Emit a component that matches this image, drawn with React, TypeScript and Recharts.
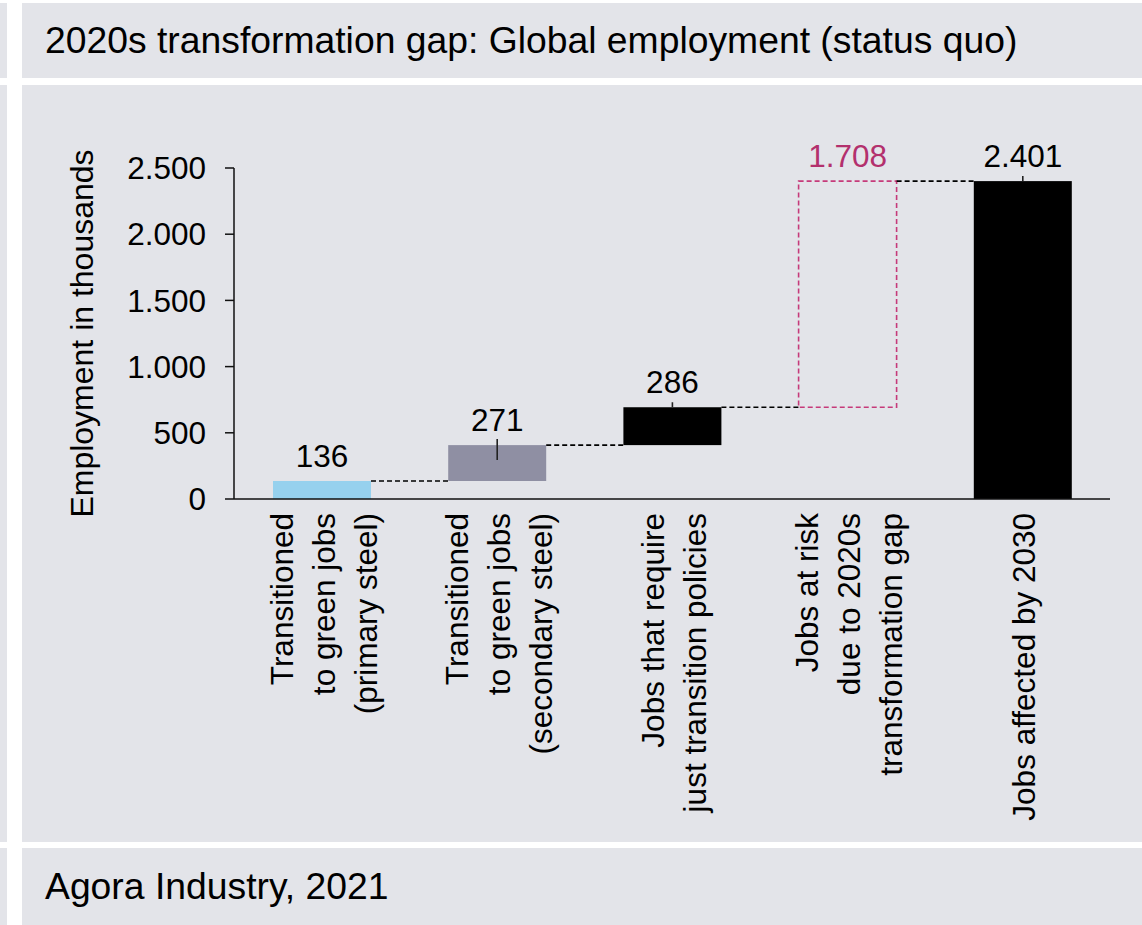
import React from "react";
import { BarChart, Bar, XAxis, YAxis } from "recharts";

// ---- data ----
const categories: string[] = [
  "Transitioned\nto green jobs\n(primary steel)",
  "Transitioned\nto green jobs\n(secondary steel)",
  "Jobs that require\njust transition policies",
  "Jobs at risk\ndue to 2020s\ntransformation gap",
  "Jobs affected by 2030",
];
const values: number[] = [136, 271, 286, 1708, 2401];
const isTotal: boolean[] = [false, false, false, false, true];
const yTicks: number[] = [0, 500, 1000, 1500, 2000, 2500];
const title = "2020s transformation gap: Global employment (status quo)";
const source = "Agora Industry, 2021";
const yLabel = "Employment in thousands";

// ---- style ----
const BG = "#e3e4e9";
const FONT = "'Liberation Sans', Arial, Helvetica, sans-serif";
const barColors = ["#96d1ee", "#8f8fa3", "#000000", "none", "#000000"];
const GAP_COLOR = "#c63a7a";
const GAP_TEXT = "#b3306d";
const LEADERS: (number[] | null)[] = [null, [-6, 15], [-5, 0], null, [-5, 0]];

const CHART_W = 1120;
const CHART_H = 757;
const Y_AXIS_W = 212;
const MARGIN = { top: 83, right: 32, left: 0, bottom: 0 };
const PLOT_W = CHART_W - Y_AXIS_W - MARGIN.right - MARGIN.left;
const BAND = PLOT_W / categories.length;

const fmt = (n: number) => String(n).replace(/\B(?=(\d{3})+(?!\d))/g, ".");

let running = 0;
const data = categories.map((name, i) => {
  const base = isTotal[i] ? 0 : running;
  if (!isTotal[i]) running += values[i];
  return { name, base, value: values[i] };
});

const XTick = (props: any) => {
  const { x, y, payload } = props;
  const lines = String(payload.value).split("\n");
  const n = lines.length;
  return (
    <g transform={`translate(${x},${y})`}>
      {lines.map((l, i) => (
        <text
          key={i}
          transform={`translate(${(i - (n - 1) / 2) * 42 + 13},14) rotate(-90)`}
          textAnchor="end"
          fontSize={31.5}
          fontFamily={FONT}
          fill="#000"
        >
          {l}
        </text>
      ))}
    </g>
  );
};

const ValueShape = (props: any) => {
  const { x, y, width, height, index } = props;
  const isGap = index === 3;
  const cx = x + width / 2;
  const leader = LEADERS[index];
  return (
    <g>
      {isGap ? (
        <rect
          x={x}
          y={y}
          width={width}
          height={height}
          fill="none"
          stroke={GAP_COLOR}
          strokeWidth={1.6}
          strokeDasharray="5 3"
        />
      ) : (
        <rect x={x} y={y} width={width} height={height} fill={barColors[index]} />
      )}
      {index < categories.length - 1 && (
        <line
          x1={x + width}
          x2={x + BAND}
          y1={y}
          y2={y}
          stroke="#000"
          strokeWidth={1.6}
          strokeDasharray="5 3"
        />
      )}
      {leader && (
        <line x1={cx} x2={cx} y1={y + leader[0]} y2={y + leader[1]} stroke="#222" strokeWidth={1.6} />
      )}
      <text
        x={cx}
        y={y - 14}
        textAnchor="middle"
        fontSize={31.5}
        fontFamily={FONT}
        fill={isGap ? GAP_TEXT : "#000"}
      >
        {fmt(values[index])}
      </text>
    </g>
  );
};

const YLabel = (props: any) => {
  const vb = props.viewBox || { x: 0, y: MARGIN.top, width: Y_AXIS_W, height: 331 };
  const cy = vb.y + vb.height / 2;
  return (
    <text
      transform={`translate(71,${cy}) rotate(-90)`}
      textAnchor="middle"
      fontSize={32}
      fontFamily={FONT}
      fill="#000"
    >
      {yLabel}
    </text>
  );
};

export default function App() {
  return (
    <div
      style={{
        position: "absolute",
        top: 0,
        left: 0,
        width: 1142,
        height: 925,
        background: "#fff",
        fontFamily: FONT,
        overflow: "hidden",
      }}
    >
      {/* left strip */}
      <div style={{ position: "absolute", left: 0, top: 3, width: 7, height: 75, background: BG }} />
      <div style={{ position: "absolute", left: 0, top: 85, width: 7, height: 757, background: BG }} />
      <div style={{ position: "absolute", left: 0, top: 848, width: 7, height: 77, background: BG }} />

      {/* title panel */}
      <div
        style={{
          position: "absolute",
          left: 22,
          top: 3,
          width: 1120,
          height: 75,
          background: BG,
          display: "flex",
          alignItems: "center",
          paddingLeft: 23,
          boxSizing: "border-box",
          fontSize: 37.3,
          color: "#000",
        }}
      >
        {title}
      </div>

      {/* chart panel */}
      <div style={{ position: "absolute", left: 22, top: 85, width: CHART_W, height: CHART_H, background: BG }}>
        <BarChart width={CHART_W} height={CHART_H} data={data} margin={MARGIN}>
          <XAxis
            dataKey="name"
            interval={0}
            tick={<XTick />}
            tickLine={false}
            tickSize={0}
            tickMargin={0}
            height={CHART_H - MARGIN.top - 331}
            axisLine={{ stroke: "#111", strokeWidth: 1.5 }}
          />
          <YAxis
            width={Y_AXIS_W}
            domain={[0, 2500]}
            ticks={yTicks}
            tickFormatter={fmt}
            tickSize={9}
            tickMargin={19}
            tick={{ fontSize: 31.5, fill: "#000", fontFamily: FONT }}
            axisLine={{ stroke: "#111", strokeWidth: 1.5 }}
            tickLine={{ stroke: "#111", strokeWidth: 1.5 }}
            label={<YLabel />}
          />
          <Bar dataKey="base" stackId="w" barSize={98} fill="transparent" isAnimationActive={false} />
          <Bar dataKey="value" stackId="w" barSize={98} shape={<ValueShape />} isAnimationActive={false} />
        </BarChart>
      </div>

      {/* footer panel */}
      <div
        style={{
          position: "absolute",
          left: 22,
          top: 848,
          width: 1120,
          height: 77,
          background: BG,
          display: "flex",
          alignItems: "center",
          paddingLeft: 23,
          boxSizing: "border-box",
          fontSize: 37.3,
          color: "#000",
        }}
      >
        {source}
      </div>
    </div>
  );
}
